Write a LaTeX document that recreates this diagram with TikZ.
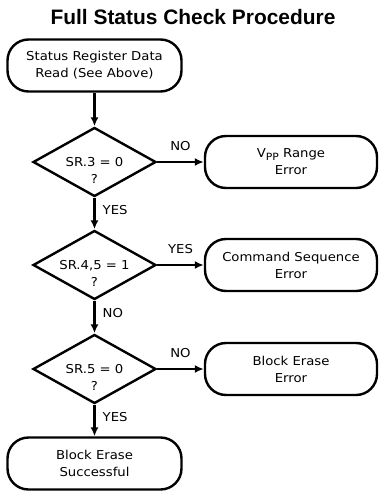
\documentclass[tikz,border=0pt]{standalone}
\usepackage{fontspec}
\setmainfont{DejaVu Sans}[FakeStretch=1.08]
\newfontfamily\titlefont{Liberation Sans}
\usetikzlibrary{shapes.geometric,arrows.meta}

\tikzset{
  proc/.style={draw, line width=2.4bp, rounded corners=21bp, minimum width=174bp, minimum height=52bp, align=center, inner sep=0pt},
  errbox/.style={proc, minimum width=172bp},
  decision/.style={diamond, draw, line width=2.4bp, minimum width=123bp, minimum height=69bp, shape aspect=1.78, inner sep=0pt},
  qtext/.style={align=center, yshift=-8bp},
  flow/.style={line width=2.4bp, -{Latex[length=9bp,width=8bp]}},
  ans/.style={inner sep=0pt}
}

\begin{document}
\begin{tikzpicture}[x=1bp, y=-1bp, font=\fontsize{12.3}{17}\selectfont]
\useasboundingbox (0,0) rectangle (379,491);

% Titulo
\node[anchor=base, font=\titlefont\bfseries\fontsize{21}{25}\selectfont] (titulo) at (193,25) {Full Status Check Procedure};

% Columna principal
\node[proc] (leer) at (94.5,65.5) {Status Register Data\\Read (See Above)};
\node[decision, label={[qtext]center:{SR.3 = 0\\?}}] (sr3) at (94.5,162) {};
\node[decision, label={[qtext]center:{SR.4,5 = 1\\?}}] (sr45) at (94.5,265) {};
\node[decision, label={[qtext]center:{SR.5 = 0\\?}}] (sr5) at (94.5,369) {};
\node[proc] (exito) at (94.5,463.5) {Block Erase\\Successful};

% Errores
\node[errbox] (vpp) at (291,162) {V\raisebox{-3bp}{\fontsize{10}{10}\selectfont PP} Range\\Error};
\node[errbox] (cmd) at (291,265) {Command Sequence\\Error};
\node[errbox] (borrar) at (291,369) {Block Erase\\Error};

% Flechas
\draw[flow] (leer.south) -- (sr3.north);
\draw[flow] (sr3.south) -- node[ans, right=7bp, pos=0.38] {YES} (sr45.north);
\draw[flow] (sr45.south) -- node[ans, right=7bp, pos=0.38] {NO} (sr5.north);
\draw[flow] (sr5.south) -- node[ans, right=7bp, pos=0.38] {YES} (exito.north);
\draw[flow] (sr3.east) -- node[ans, above=10bp] {NO} (vpp.west);
\draw[flow] (sr45.east) -- node[ans, above=10bp] {YES} (cmd.west);
\draw[flow] (sr5.east) -- node[ans, above=10bp] {NO} (borrar.west);
\end{tikzpicture}
\end{document}
